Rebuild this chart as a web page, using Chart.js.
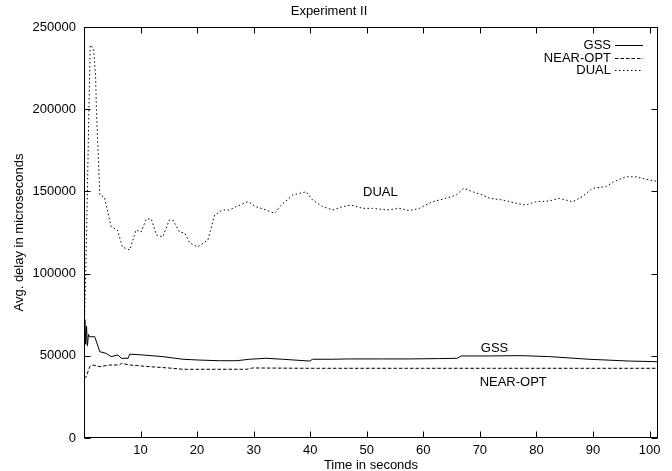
<!DOCTYPE html>
<html>
<head>
<meta charset="utf-8">
<title>Experiment II</title>
<script src="https://cdn.jsdelivr.net/npm/chart.js@4/dist/chart.umd.min.js"></script>
<style>
  html, body { margin: 0; padding: 0; background: #fff; }
  canvas { display: block; }
</style>
</head>
<body>
<canvas id="chart" width="672" height="471"></canvas>
<script>
// time (s) / avg. delay (us)
const gssTime = [0, 0.15, 0.3, 0.45, 0.6, 0.8, 1.0, 1.9, 2.8, 3.9, 4.8, 6.0, 6.6, 7.8, 8.1, 10.4, 13.9, 17.5, 20.4, 24.0, 26.9, 29.3, 32.2, 35.1, 39.9, 40.4, 44.0, 46.9, 52.8, 57.5, 62.8, 66.0, 66.7, 71.7, 77.3, 82.3, 89.3, 96.4, 101.5];
const gssDelay = [60000, 72000, 57000, 68000, 56000, 63000, 61600, 61600, 52500, 51500, 49500, 50500, 48500, 48500, 51000, 50500, 49500, 47900, 47400, 47000, 47000, 47900, 48500, 47900, 46800, 47900, 47900, 48100, 48100, 48100, 48300, 48500, 49900, 49900, 50100, 49500, 47900, 46800, 46400];

const nearTime = [0, 0.4, 1.0, 1.6, 2.8, 4.5, 6.3, 6.6, 8.1, 11.6, 15.7, 17.5, 20.4, 28.7, 29.8, 40, 60, 80, 101.5];
const nearDelay = [36300, 37300, 43400, 44400, 43400, 44400, 44400, 45400, 44400, 43400, 42400, 41800, 41800, 41800, 42600, 42400, 42400, 42400, 42400];

const dualTime = [0, 0.3, 0.6, 0.87, 1.1, 1.7, 2.05, 2.2, 2.8, 3.6, 4.8, 5.9, 6.8, 8.1, 9.2, 10.1, 11.0, 11.9, 12.8, 13.9, 15.1, 15.7, 16.9, 17.8, 18.7, 20.1, 21.9, 23.1, 24.5, 25.7, 26.9, 29.0, 30.4, 32.2, 33.7, 34.9, 36.9, 39.3, 40.4, 42.2, 44.0, 45.7, 47.2, 49.3, 51.0, 53.7, 55.8, 57.5, 59.3, 61.6, 64.0, 65.8, 67.2, 68.7, 70.5, 71.7, 74.0, 76.4, 78.1, 79.9, 82.3, 84.0, 86.4, 88.1, 89.9, 92.3, 93.7, 95.8, 97.6, 99.3, 101.5];
const dualDelay = [60000, 100000, 150000, 200000, 239000, 237000, 220000, 199500, 147800, 146600, 128500, 126500, 116200, 114400, 126500, 125300, 133200, 133200, 123500, 122300, 132600, 132600, 125300, 124700, 118600, 116200, 120400, 135600, 138700, 138700, 140700, 143700, 140700, 138700, 136700, 141700, 147800, 149800, 144800, 140700, 138700, 140700, 141700, 139700, 139700, 138700, 139700, 138300, 139700, 143700, 145800, 147800, 151900, 149800, 147800, 145800, 144800, 142800, 141700, 143700, 144200, 145800, 143700, 146800, 151900, 152900, 155900, 158900, 158900, 157400, 156000];

const seriesNames = ['GSS', 'NEAR-OPT', 'DUAL'];

// text labels placed next to the curves
const noteText = ['DUAL', 'GSS', 'NEAR-OPT'];
const noteTime = [52.4, 72.6, 75.9];
const noteDelay = [149600, 54700, 34000];

const FONT = "'Liberation Sans', Arial, Helvetica, sans-serif";

function points(xs, ys) {
  return xs.map((x, i) => ({ x: x, y: ys[i] }));
}

// box around the plot with inward ticks on all four sides
const frameTicks = {
  id: 'frameTicks',
  afterDatasetsDraw(chart) {
    const { ctx, chartArea: a, scales: { x, y } } = chart;
    const L = Math.round(a.left) + 0.5, R = Math.round(a.right) - 0.5;
    const T = Math.round(a.top) + 0.5, B = Math.round(a.bottom) - 0.5;
    const len = 6;
    ctx.save();
    ctx.strokeStyle = '#000';
    ctx.lineWidth = 1;
    ctx.setLineDash([]);
    ctx.beginPath();
    x.ticks.forEach(t => {
      if (t.value === 0) return;
      const px = Math.round(x.getPixelForValue(t.value)) + 0.5;
      ctx.moveTo(px, B); ctx.lineTo(px, B - len);
      ctx.moveTo(px, T); ctx.lineTo(px, T + len);
    });
    y.ticks.forEach(t => {
      const py = Math.round(y.getPixelForValue(t.value)) + 0.5;
      ctx.moveTo(L, py); ctx.lineTo(L + len, py);
      ctx.moveTo(R, py); ctx.lineTo(R - len, py);
    });
    ctx.stroke();
    ctx.strokeRect(L, T, R - L, B - T);
    ctx.restore();
  }
};

// gnuplot style key: right aligned names, line sample on the right
const keyBox = {
  id: 'keyBox',
  afterDatasetsDraw(chart) {
    const { ctx, chartArea: a } = chart;
    ctx.save();
    ctx.font = '13px ' + FONT;
    ctx.fillStyle = '#000';
    ctx.textAlign = 'right';
    ctx.textBaseline = 'middle';
    chart.data.datasets.forEach((ds, i) => {
      const yy = Math.round(a.top + 18 + i * 12.5) + 0.5;
      ctx.fillText(ds.label, a.right - 47, yy);
      ctx.strokeStyle = ds.borderColor;
      ctx.lineWidth = ds.borderWidth;
      ctx.setLineDash(ds.borderDash || []);
      ctx.beginPath();
      ctx.moveTo(a.right - 43, yy);
      ctx.lineTo(a.right - 15, yy);
      ctx.stroke();
    });
    ctx.restore();
  }
};

const curveNotes = {
  id: 'curveNotes',
  afterDatasetsDraw(chart) {
    const { ctx, scales: { x, y } } = chart;
    ctx.save();
    ctx.font = '13px ' + FONT;
    ctx.fillStyle = '#000';
    ctx.textAlign = 'center';
    ctx.textBaseline = 'middle';
    noteText.forEach((txt, i) => {
      ctx.fillText(txt, x.getPixelForValue(noteTime[i]), y.getPixelForValue(noteDelay[i]));
    });
    ctx.restore();
  }
};

new Chart(document.getElementById('chart').getContext('2d'), {
  type: 'line',
  data: {
    datasets: [
      { label: seriesNames[0], data: points(gssTime, gssDelay), borderColor: '#000', borderWidth: 1, borderDash: [] },
      { label: seriesNames[1], data: points(nearTime, nearDelay), borderColor: '#000', borderWidth: 1, borderDash: [3.5, 2] },
      { label: seriesNames[2], data: points(dualTime, dualDelay), borderColor: '#000', borderWidth: 1, borderDash: [1.5, 2.5] }
    ]
  },
  options: {
    responsive: false,
    animation: false,
    events: [],
    elements: {
      point: { radius: 0 },
      line: { tension: 0, fill: false }
    },
    layout: { padding: { left: 0, right: 14, top: 0, bottom: 0 } },
    plugins: {
      legend: { display: false },
      tooltip: { enabled: false },
      title: {
        display: true,
        text: 'Experiment II',
        color: '#000',
        font: { family: FONT, size: 13, weight: 'normal' },
        padding: { top: 4, bottom: 7.4 }
      }
    },
    scales: {
      x: {
        type: 'linear',
        min: 0,
        max: 101.5,
        grid: { display: false, drawTicks: false },
        border: { display: false },
        afterFit(scale) { scale.height = 33; },
        ticks: {
          stepSize: 10,
          includeBounds: false,
          maxRotation: 0,
          padding: 5,
          color: '#000',
          font: { family: FONT, size: 13 },
          callback: v => (v === 0 ? '' : String(v))
        },
        title: {
          display: true,
          text: 'Time in seconds',
          color: '#000',
          font: { family: FONT, size: 13 },
          padding: { top: 0, bottom: -2 }
        }
      },
      y: {
        min: 0,
        max: 250000,
        grid: { display: false, drawTicks: false },
        border: { display: false },
        afterFit(scale) { scale.width = 84; },
        ticks: {
          stepSize: 50000,
          padding: 8,
          color: '#000',
          font: { family: FONT, size: 13 },
          callback: v => String(v)
        },
        title: {
          display: true,
          text: 'Avg. delay in microseconds',
          color: '#000',
          font: { family: FONT, size: 13 },
          padding: { top: 12, bottom: 0 }
        }
      }
    }
  },
  plugins: [frameTicks, keyBox, curveNotes]
});
</script>
</body>
</html>
